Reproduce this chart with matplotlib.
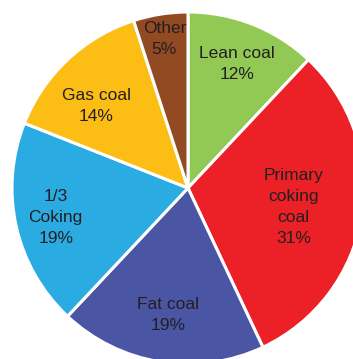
import matplotlib.pyplot as plt
import numpy as np

# Coal type shares, clockwise from 12 o'clock
labels = ["Lean coal", "Primary\ncoking\ncoal", "Fat coal", "1/3\nCoking", "Gas coal", "Other"]
shares = [12, 31, 19, 19, 14, 5]
colors = ["#92c955", "#ec2027", "#4a56a4", "#2aace3", "#fcbe14", "#924a23"]
# label placement: fraction of radius, and nudge (degrees) off the wedge middle
label_radius = [0.76, 0.61, 0.73, 0.77, 0.70, 0.86]
label_nudge = [0, -1, 0, 0, 5, 0]

plt.rcParams['font.family'] = ['Liberation Sans', 'DejaVu Sans']

fig = plt.figure(figsize=(3.53, 3.59), dpi=100)
ax = fig.add_axes([0, 0, 1, 1])

wedges, _ = ax.pie(shares, colors=colors, startangle=90, counterclock=False,
                   radius=1.0, wedgeprops=dict(edgecolor="white", linewidth=2.2))

for w, lab, pct, r, d in zip(wedges, labels, shares, label_radius, label_nudge):
    mid = np.deg2rad((w.theta1 + w.theta2) / 2 + d)
    ax.text(r * np.cos(mid), r * np.sin(mid), f"{lab}\n{pct}%",
            ha="center", va="center", fontsize=12.5, color="#231f20",
            linespacing=1.5)

# pie radius maps to ~176 px, centre sits at (188, 188) px
ax.set_xlim(-188 / 176, (353 - 188) / 176)
ax.set_ylim(-(359 - 188) / 176, 188 / 176)
ax.set_aspect("equal")
ax.axis("off")

fig.savefig("out.png", dpi=100)
